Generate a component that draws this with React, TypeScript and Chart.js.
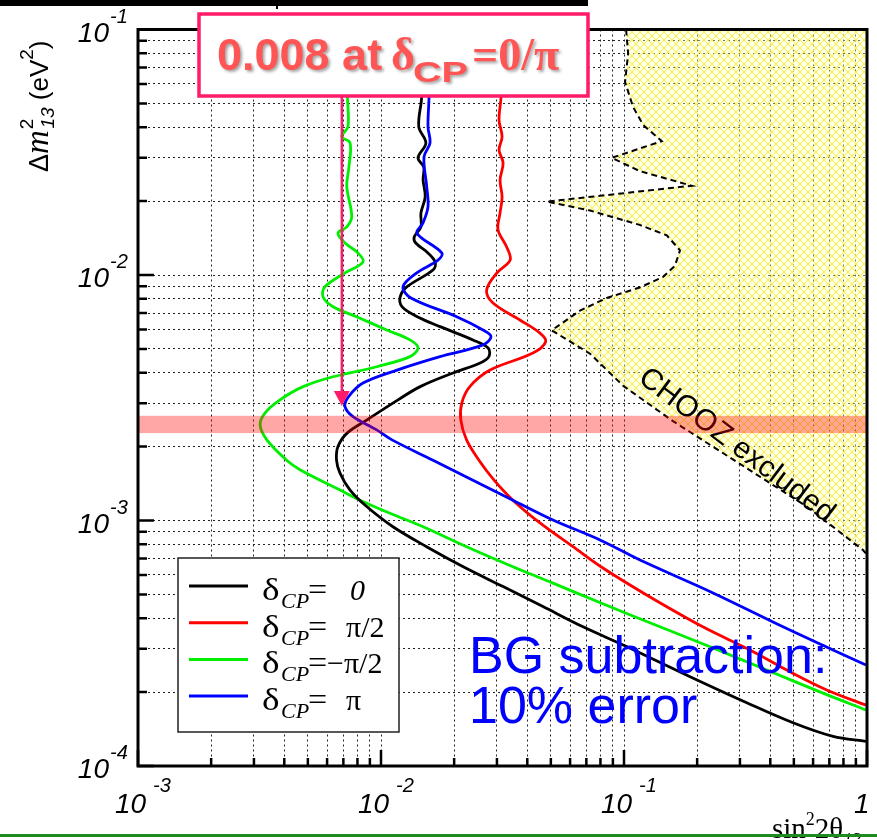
import React, { useEffect, useRef } from 'react';
import { Chart, registerables } from 'chart.js';

Chart.register(...registerables);

const SANS = '"Liberation Sans", Arial, Helvetica, sans-serif';
const SERIF = '"Liberation Serif", "Times New Roman", Times, serif';

// ---- axis ranges ----
const xMin = 1e-3;
const xMax = 1;
const yMin = 1e-4;
const yMax = 1e-1;

// ---- tick labels (decades) ----
const xTickValues = [1e-3, 1e-2, 1e-1, 1];
const xTickBases = ['10', '10', '10', '1'];
const xTickExps = ['-3', '-2', '-1', ''];
const yTickValues = [1e-1, 1e-2, 1e-3, 1e-4];
const yTickExps = ['-1', '-2', '-3', '-4'];

// ---- sensitivity curves: sin^2 2θ13 (x) vs Δm^2_13 (y) ----
// δCP = 0 (black)
const d0X = [0.0149, 0.0146, 0.0147, 0.0143, 0.0153, 0.0142, 0.0150, 0.0149, 0.0152, 0.0146, 0.0146, 0.0137, 0.0139, 0.0156, 0.0167, 0.0164, 0.0128, 0.0120, 0.0122, 0.0141, 0.0175, 0.0239, 0.0276, 0.0278, 0.0256, 0.0198, 0.0145, 0.01175, 0.00876, 0.00725, 0.00665, 0.00656, 0.00678, 0.00746, 0.00873, 0.0112, 0.0154, 0.0218, 0.0318, 0.0464, 0.0678, 0.103, 0.187, 0.320, 0.496, 0.725, 0.990];
const d0Y = [0.1, 0.0751, 0.0532, 0.0402, 0.0345, 0.0300, 0.0275, 0.0244, 0.0208, 0.0179, 0.0157, 0.0143, 0.0135, 0.0123, 0.0113, 0.0105, 0.00896, 0.00816, 0.00743, 0.00676, 0.00616, 0.00544, 0.00504, 0.00465, 0.00438, 0.00399, 0.00351, 0.00310, 0.00257, 0.00227, 0.00200, 0.00176, 0.00156, 0.00133, 0.00114, 0.000943, 0.000782, 0.000648, 0.000538, 0.000446, 0.000369, 0.000306, 0.000231, 0.000181, 0.000150, 0.000132, 0.000126];

// δCP = π/2 (red)
const dHalfX = [0.0312, 0.0315, 0.0312, 0.0306, 0.0315, 0.0306, 0.0318, 0.0309, 0.0315, 0.0309, 0.0303, 0.0329, 0.0340, 0.0300, 0.0272, 0.0289, 0.0373, 0.0451, 0.0476, 0.0422, 0.0281, 0.0232, 0.0215, 0.0213, 0.0225, 0.0253, 0.0292, 0.0349, 0.0451, 0.0617, 0.0804, 0.120, 0.211, 0.330, 0.467, 0.683, 0.990];
const dHalfY = [0.1, 0.0751, 0.0532, 0.0428, 0.0366, 0.0323, 0.0286, 0.0244, 0.0208, 0.0179, 0.0153, 0.0130, 0.0115, 0.0102, 0.00869, 0.00769, 0.00656, 0.00580, 0.00535, 0.00481, 0.00410, 0.00351, 0.00301, 0.00257, 0.00213, 0.00176, 0.00146, 0.00121, 0.000977, 0.000782, 0.000648, 0.000507, 0.000369, 0.000297, 0.000246, 0.000204, 0.000177];

// δCP = -π/2 (green)
const dMinusHalfX = [0.00725, 0.00731, 0.00728, 0.00731, 0.00689, 0.00746, 0.00738, 0.00723, 0.00758, 0.00723, 0.00665, 0.00711, 0.00804, 0.00843, 0.00711, 0.00588, 0.00577, 0.00635, 0.00794, 0.01056, 0.01316, 0.0142, 0.01316, 0.0096, 0.00635, 0.00478, 0.00384, 0.00333, 0.00318, 0.00339, 0.00409, 0.00464, 0.00678, 0.0082, 0.01089, 0.0149, 0.0225, 0.0349, 0.0510, 0.0804, 0.1406, 0.226, 0.387, 0.659, 0.990];
const dMinusHalfY = [0.1, 0.0751, 0.0532, 0.0402, 0.0366, 0.0345, 0.0276, 0.0229, 0.0173, 0.0157, 0.0148, 0.0135, 0.0123, 0.0113, 0.0102, 0.00896, 0.00816, 0.00743, 0.00676, 0.00597, 0.00544, 0.00504, 0.00465, 0.00423, 0.00385, 0.00351, 0.00310, 0.00274, 0.00245, 0.00213, 0.00176, 0.00161, 0.00133, 0.00121, 0.00107, 0.000943, 0.000782, 0.000648, 0.000556, 0.000461, 0.000369, 0.000306, 0.000246, 0.000198, 0.000169];

// δCP = π (blue)
const dPiX = [0.01561, 0.01576, 0.01576, 0.01561, 0.01591, 0.01503, 0.01542, 0.01561, 0.01489, 0.01406, 0.01778, 0.01716, 0.01403, 0.01232, 0.01329, 0.02049, 0.02629, 0.02836, 0.02629, 0.01749, 0.01164, 0.00843, 0.00734, 0.00711, 0.00767, 0.0096, 0.0111, 0.01637, 0.0239, 0.0349, 0.0510, 0.0797, 0.1164, 0.2325, 0.451, 0.7246, 0.990];
const dPiY = [0.1, 0.0751, 0.0532, 0.0402, 0.0345, 0.0303, 0.0229, 0.0190, 0.0163, 0.0148, 0.0123, 0.0115, 0.0102, 0.00896, 0.00806, 0.00676, 0.00597, 0.00561, 0.00519, 0.00465, 0.00410, 0.00363, 0.00319, 0.00291, 0.00265, 0.00234, 0.00213, 0.00176, 0.00146, 0.00121, 0.001005, 0.000833, 0.00069, 0.000507, 0.000369, 0.000297, 0.000258];

// CHOOZ exclusion boundary
const choozX = [0.102, 0.104, 0.101, 0.109, 0.120, 0.143, 0.089, 0.116, 0.190, 0.0481, 0.0725, 0.116, 0.150, 0.170, 0.162, 0.145, 0.116, 0.0849, 0.0659, 0.0504, 0.0725, 0.0991, 0.159, 0.300, 0.565, 0.963, 1.0];
const choozY = [0.1, 0.0798, 0.0611, 0.0483, 0.0408, 0.0351, 0.0300, 0.0265, 0.0231, 0.0199, 0.0183, 0.0160, 0.0145, 0.0126, 0.0109, 0.00983, 0.00889, 0.00806, 0.00716, 0.00595, 0.00478, 0.00354, 0.00254, 0.00170, 0.00114, 0.000758, 0.000724];

// horizontal band (Δm^2 ≈ 2.5e-3) and arrow
const bandLow = 0.00227;
const bandHigh = 0.00267;
const arrowX = 0.0069;
const arrowTipY = 0.00293;

// legend
const legendColors = ['#000000', '#ff0000', '#00ee00', '#0000ff'];
const legendValues = ['0', 'π/2', '−π/2', 'π'];

function decadeGrid(minExp: number, maxExp: number): number[] {
  const out: number[] = [];
  for (let e = minExp; e < maxExp; e++) {
    for (let m = 1; m <= 9; m++) out.push(Number((m * Math.pow(10, e)).toPrecision(6)));
  }
  out.push(Math.pow(10, maxExp));
  return out;
}
const xGrid = decadeGrid(-3, 0);
const yGrid = decadeGrid(-4, -1);

type Seg = { t: string; f: string; dy?: number; dx?: number; at?: number; sx?: number };
function drawSegs(ctx: CanvasRenderingContext2D, segs: Seg[], x: number, y: number) {
  let cx = x;
  for (const s of segs) {
    ctx.font = s.f;
    if (s.at !== undefined) cx = s.at;
    cx += s.dx || 0;
    const sx = s.sx || 1;
    ctx.save();
    ctx.translate(cx, y + (s.dy || 0));
    ctx.scale(sx, 1);
    ctx.fillText(s.t, 0, 0);
    ctx.restore();
    cx += ctx.measureText(s.t).width * sx;
  }
  return cx;
}

function isDecade(v: number) {
  const l = Math.log10(v);
  return Math.abs(l - Math.round(l)) < 1e-6;
}

function makeHatch(): CanvasPattern | string {
  const c = document.createElement('canvas');
  const s = 8;
  c.width = s;
  c.height = s;
  const g = c.getContext('2d');
  if (!g) return 'rgba(255,255,150,0.4)';
  g.fillStyle = 'rgba(255,255,190,0.4)';
  g.fillRect(0, 0, s, s);
  g.strokeStyle = 'rgba(248,240,50,0.9)';
  g.lineWidth = 1;
  g.beginPath();
  g.moveTo(0, 0);
  g.lineTo(s, s);
  g.moveTo(s, 0);
  g.lineTo(0, s);
  g.stroke();
  return g.createPattern(c, 'repeat') || 'rgba(255,255,150,0.4)';
}

const overlay = {
  id: 'overlay',
  afterDraw(chart: any) {
    const ctx: CanvasRenderingContext2D = chart.ctx;
    const a = chart.chartArea;
    const xs = chart.scales.x;
    const ys = chart.scales.y;
    ctx.save();
    ctx.textAlign = 'left';
    ctx.textBaseline = 'alphabetic';

    // CHOOZ excluded label
    ctx.save();
    ctx.translate(637, 381);
    ctx.rotate((37 * Math.PI) / 180);
    ctx.fillStyle = '#000';
    ctx.font = `30px ${SANS}`;
    ctx.fillText('CHOOZ excluded', 0, 0);
    ctx.restore();

    // band
    const yb1 = ys.getPixelForValue(bandHigh);
    const yb2 = ys.getPixelForValue(bandLow);
    ctx.fillStyle = 'rgba(255,0,0,0.35)';
    ctx.fillRect(a.left, yb1, a.right - a.left, yb2 - yb1);

    // frame
    ctx.strokeStyle = '#000';
    ctx.lineWidth = 3;
    ctx.strokeRect(a.left, a.top, a.right - a.left, a.bottom - a.top);

    // tick marks
    ctx.lineWidth = 2.5;
    ctx.beginPath();
    for (const v of xGrid) {
      const px = xs.getPixelForValue(v);
      const len = isDecade(v) ? 16 : 8;
      ctx.moveTo(px, a.bottom);
      ctx.lineTo(px, a.bottom - len);
    }
    for (const v of yGrid) {
      const py = ys.getPixelForValue(v);
      const len = isDecade(v) ? 16 : 9;
      ctx.moveTo(a.left, py);
      ctx.lineTo(a.left + len, py);
    }
    ctx.stroke();

    // tick labels
    ctx.fillStyle = '#000';
    xTickValues.forEach((v, i) => {
      const px = xs.getPixelForValue(v);
      if (xTickExps[i]) {
        ctx.font = `italic 28px ${SANS}`;
        ctx.fillText(xTickBases[i], px - 23, a.bottom + 47);
        ctx.font = `italic 20px ${SANS}`;
        ctx.fillText(xTickExps[i], px + 15, a.bottom + 26);
      } else {
        ctx.font = `italic 28px ${SANS}`;
        ctx.fillText(xTickBases[i], px - 13, a.bottom + 47);
      }
    });
    yTickValues.forEach((v, i) => {
      const py = ys.getPixelForValue(v);
      ctx.font = `italic 28px ${SANS}`;
      ctx.textAlign = 'right';
      ctx.fillText('10', 109, py + 12);
      ctx.textAlign = 'left';
      ctx.font = `italic 20px ${SANS}`;
      ctx.fillText(yTickExps[i], 110, py - 7);
    });

    // y title
    ctx.save();
    ctx.translate(48, 172);
    ctx.rotate(-Math.PI / 2);
    drawSegs(ctx, [
      { t: 'Δ', f: `27px ${SANS}` },
      { t: 'm', f: `italic 33px ${SERIF}` },
      { t: '2', f: `19px ${SANS}`, dy: -15, dx: 1 },
      { t: '13', f: `italic 19px ${SANS}`, dy: 6, dx: -10 },
      { t: ' (eV', f: `26px ${SANS}` },
      { t: '2', f: `19px ${SANS}`, dy: -15 },
      { t: ')', f: `26px ${SANS}` },
    ], 0, 0);
    ctx.restore();

    // x title
    drawSegs(ctx, [
      { t: 'sin', f: `29px ${SERIF}` },
      { t: '2', f: `18px ${SERIF}`, dy: -13 },
      { t: '2θ', f: `29px ${SERIF}` },
      { t: '13', f: `italic 18px ${SERIF}`, dy: 8 },
    ], 772, 838);

    // legend
    const lx = 178, ly = 558, lw = 221, lh = 174;
    ctx.fillStyle = '#fff';
    ctx.fillRect(lx, ly, lw, lh);
    ctx.strokeStyle = '#222';
    ctx.lineWidth = 1.5;
    ctx.strokeRect(lx, ly, lw, lh);
    legendValues.forEach((val, i) => {
      const ry = ly + 28 + i * 36.7;
      ctx.strokeStyle = legendColors[i];
      ctx.lineWidth = 3;
      ctx.beginPath();
      ctx.moveTo(lx + 11, ry);
      ctx.lineTo(lx + 70, ry);
      ctx.stroke();
      ctx.fillStyle = '#000';
      drawSegs(ctx, [
        { t: 'δ', f: `31px ${SERIF}`, at: 262, sx: 1.2 },
        { t: 'CP', f: `italic 21px ${SERIF}`, dy: 8, at: 281, sx: 1.05 },
        { t: '=', f: `31px ${SERIF}`, at: 308, sx: 1.1 },
      ], 262, ry + 14);
      const isNeg = val.startsWith('−');
      const isZero = val === '0';
      ctx.font = isZero ? `italic 30px ${SERIF}` : `30px ${SERIF}`;
      ctx.fillText(val, isNeg ? 327 : isZero ? 350 : 346, ry + 14);
    });

    // BG subtraction text
    ctx.fillStyle = '#0000ff';
    ctx.font = `52px ${SANS}`;
    ctx.fillText('BG subtraction:', 469, 673);
    ctx.fillText('10% error', 469, 723);

    // arrow
    const axp = xs.getPixelForValue(arrowX);
    const tipY = ys.getPixelForValue(arrowTipY);
    ctx.strokeStyle = '#ff1a6a';
    ctx.fillStyle = '#ff1a6a';
    ctx.lineWidth = 2.5;
    ctx.beginPath();
    ctx.moveTo(axp, 96);
    ctx.lineTo(axp, tipY - 12);
    ctx.stroke();
    ctx.beginPath();
    ctx.moveTo(axp - 8, tipY - 15);
    ctx.lineTo(axp + 8, tipY - 15);
    ctx.lineTo(axp, tipY);
    ctx.closePath();
    ctx.fill();

    // annotation box
    ctx.fillStyle = '#fff';
    ctx.fillRect(199, 14, 389, 82);
    ctx.strokeStyle = '#ff1a6a';
    ctx.lineWidth = 3.5;
    ctx.strokeRect(199, 14, 389, 82);
    ctx.save();
    ctx.shadowColor = 'rgba(0,0,0,0.35)';
    ctx.shadowOffsetX = 2;
    ctx.shadowOffsetY = 2;
    ctx.shadowBlur = 3;
    ctx.fillStyle = '#ff5555';
    drawSegs(ctx, [
      { t: '0.008 at', f: `bold 45px ${SANS}`, at: 217 },
      { t: 'δ', f: `bold 46px ${SERIF}`, at: 391 },
      { t: 'CP', f: `bold 30px ${SANS}`, dy: 12, at: 413, sx: 1.32 },
      { t: '=0/π', f: `bold 46px ${SERIF}`, at: 472 },
    ], 217, 70);
    ctx.restore();

    // top black bar & bottom green line (page decoration)
    ctx.fillStyle = '#000';
    ctx.fillRect(0, 0, 588, 6);
    ctx.fillRect(276, 0, 2, 9);
    ctx.fillStyle = '#1f8a1f';
    ctx.fillRect(0, 834, 877, 3);

    ctx.restore();
  },
};

export default function App() {
  const ref = useRef<HTMLCanvasElement>(null);
  useEffect(() => {
    const canvas = ref.current;
    if (!canvas) return;
    const hatch = makeHatch();
    const toPts = (xv: number[], yv: number[]) => xv.map((x, i) => ({ x, y: yv[i] }));
    const curve = (label: string, xv: number[], yv: number[], color: string, order: number) => ({
      label,
      data: toPts(xv, yv),
      showLine: true,
      borderColor: color,
      backgroundColor: color,
      borderWidth: 2.8,
      pointRadius: 0,
      tension: 0.35,
      fill: false,
      order,
    });
    const chart = new Chart(canvas, {
      type: 'scatter',
      data: {
        datasets: [
          curve('δCP = π', dPiX, dPiY, '#0000ff', 0),
          curve('δCP = 0', d0X, d0Y, '#000000', 1),
          curve('δCP = −π/2', dMinusHalfX, dMinusHalfY, '#00ee00', 2),
          curve('δCP = π/2', dHalfX, dHalfY, '#ff0000', 3),
          {
            label: 'CHOOZ boundary',
            data: toPts(choozX, choozY),
            showLine: true,
            borderColor: '#000',
            borderWidth: 2,
            borderDash: [6, 4],
            pointRadius: 0,
            tension: 0,
            fill: false,
            order: 4,
          },
          {
            label: 'CHOOZ excluded',
            data: [...toPts(choozX, choozY), { x: xMax, y: yMax }],
            showLine: true,
            borderColor: 'rgba(0,0,0,0)',
            borderWidth: 1,
            backgroundColor: hatch as any,
            pointRadius: 0,
            tension: 0,
            fill: 'shape',
            order: 5,
          },
        ] as any,
      },
      options: {
        responsive: false,
        animation: false,
        devicePixelRatio: 1,
        events: [],
        layout: { padding: { left: 138, top: 29.5, right: 10, bottom: 73 } },
        plugins: { legend: { display: false }, tooltip: { enabled: false } },
        scales: {
          x: {
            type: 'logarithmic',
            min: xMin,
            max: xMax,
            afterBuildTicks: (s: any) => {
              s.ticks = xGrid.map((v) => ({ value: v }));
            },
            ticks: { display: false },
            grid: { color: '#222', lineWidth: 1, drawTicks: false },
            border: { display: false, dash: [2, 3] },
          },
          y: {
            type: 'logarithmic',
            min: yMin,
            max: yMax,
            afterBuildTicks: (s: any) => {
              s.ticks = yGrid.map((v) => ({ value: v }));
            },
            ticks: { display: false },
            grid: { color: '#222', lineWidth: 1, drawTicks: false },
            border: { display: false, dash: [2, 3] },
          },
        },
      } as any,
      plugins: [overlay],
    });
    return () => chart.destroy();
  }, []);
  return (
    <div style={{ position: 'absolute', left: 0, top: 0, width: 877, height: 839, background: '#fff', overflow: 'hidden' }}>
      <canvas ref={ref} width={877} height={839} style={{ display: 'block' }} />
    </div>
  );
}
